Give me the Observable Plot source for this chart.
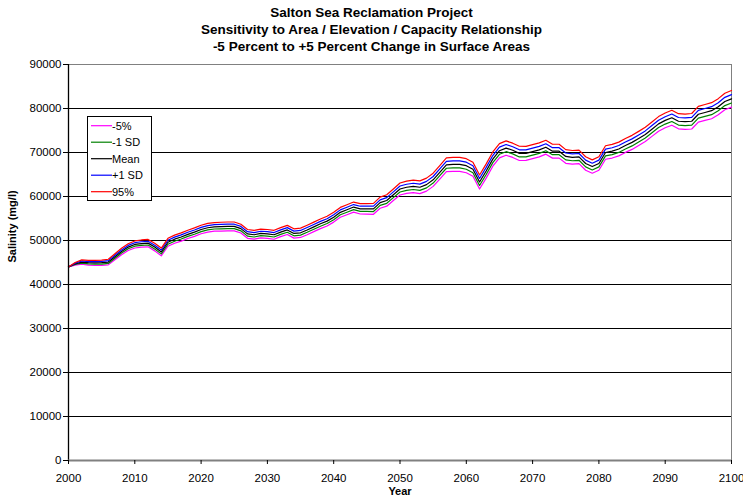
<!DOCTYPE html>
<html><head><meta charset="utf-8">
<script src="https://cdn.jsdelivr.net/npm/d3@7"></script>
<script src="https://cdn.jsdelivr.net/npm/@observablehq/plot@0.6"></script>
<style>
body{margin:0;background:#fff;font-family:"Liberation Sans",Arial,sans-serif;}
#title{width:743px;height:58px;box-sizing:border-box;padding-top:4px;text-align:center;font-weight:bold;font-size:13.5px;line-height:17px;color:#000;}
#chart svg{display:block;}
</style></head><body>
<div id="title">Salton Sea Reclamation Project<br>Sensitivity to Area / Elevation / Capacity Relationship<br>-5 Percent to +5 Percent Change in Surface Areas</div>
<div id="chart"></div>
<script>
const years = d3.range(2000, 2101);
const seriesNames = ["-5%", "-1 SD", "Mean", "+1 SD", "95%"];
const seriesColors = ["#FF00FF", "#008000", "#000000", "#0000FF", "#FF0000"];
const xTicks = [2000,2010,2020,2030,2040,2050,2060,2070,2080,2090,2100];
const yTicks = [0,10000,20000,30000,40000,50000,60000,70000,80000,90000];

const meanValues = [44000,44700,45100,44950,44900,44950,45100,46300,47500,48500,
49100,49300,49400,48500,47400,49600,50300,50800,51400,51900,
52500,52900,53100,53150,53200,53200,52700,51500,51300,51600,
51500,51300,51900,52400,51600,51750,52400,53100,53800,54400,
55300,56400,57000,57600,57200,57200,57200,58600,59100,60400,
61700,62100,62300,62100,62700,63800,65500,67200,67300,67300,
67000,66200,63300,65800,68500,70400,71000,70500,69800,69800,
70200,70600,71200,70300,70300,69100,68900,69000,67500,66800,
67500,70000,70300,70800,71600,72300,73200,74100,75300,76500,
77300,77900,77100,77000,77100,78700,79100,79500,80400,81600,
82200];
const minus1SD = [44000,44550,44850,44680,44610,44650,44780,45960,47140,48120,
48700,48890,48980,48070,46960,49150,49840,50330,50930,51420,
52020,52410,52610,52650,52700,52700,52200,51000,50800,51100,
51000,50790,51390,51880,51070,51220,51860,52560,53250,53850,
54740,55840,56430,57030,56610,56600,56580,57970,58450,59740,
61020,61410,61590,61380,61960,63050,64730,66420,66510,66510,
66200,65400,62500,64990,67690,69590,70185,69690,68990,69000,
69400,69800,70410,69510,69510,68320,68120,68230,66730,66040,
66740,69230,69520,70020,70810,71500,72400,73290,74480,75670,
76460,77050,76240,76130,76220,77810,78200,78590,79480,80660,
81250];
const minus5 = [44000,44400,44600,44410,44320,44350,44460,45620,46780,47740,
48300,48480,48560,47640,46520,48700,49380,49860,50460,50940,
51540,51920,52120,52150,52200,52200,51700,50500,50300,50600,
50500,50280,50880,51360,50540,50690,51320,52020,52700,53300,
54180,55280,55860,56460,56020,56000,55960,57340,57800,59080,
60340,60720,60880,60660,61220,62300,63960,65640,65720,65720,
65400,64600,61700,64180,66880,68780,69370,68880,68180,68200,
68600,69000,69620,68720,68720,67540,67340,67460,65960,65280,
65980,68460,68740,69240,70020,70700,71600,72480,73660,74840,
75620,76200,75380,75260,75340,76920,77300,77680,78560,79720,
80300];
const plus1SD = [44000,44850,45350,45220,45190,45250,45420,46640,47860,48880,
49500,49710,49820,48930,47840,50050,50760,51270,51870,52380,
52980,53390,53590,53650,53700,53700,53200,52000,51800,52100,
52000,51810,52410,52920,52130,52280,52940,53640,54350,54950,
55860,56960,57570,58170,57790,57800,57820,59230,59750,61060,
62380,62790,63010,62820,63440,64550,66270,67980,68090,68090,
67800,67000,64100,66610,69310,71210,71815,71310,70610,70600,
71000,71400,71990,71090,71090,69880,69680,69770,68270,67560,
68260,70770,71080,71580,72390,73100,74000,74910,76120,77330,
78140,78750,77960,77870,77980,79590,80000,80410,81320,82540,
83150];
const plus95 = [44000,45000,45600,45490,45480,45550,45740,46980,48220,49260,
49900,50120,50240,49360,48280,50500,51220,51740,52340,52860,
53460,53880,54080,54150,54200,54200,53700,52500,52300,52600,
52500,52320,52920,53440,52660,52810,53480,54180,54900,55500,
56420,57520,58140,58740,58380,58400,58440,59860,60400,61720,
63060,63480,63720,63540,64180,65300,67040,68760,68880,68880,
68600,67800,64900,67420,70120,72020,72630,72120,71420,71400,
71800,72200,72780,71880,71880,70660,70460,70540,69040,68320,
69020,71540,71860,72360,73180,73900,74800,75720,76940,78160,
78980,79600,78820,78740,78860,80480,80900,81320,82240,83480,
84100];

const seriesValues = [minus5, minus1SD, meanValues, plus1SD, plus95];
const rows = [];
seriesValues.forEach((vals, s) => years.forEach((yr, i) => rows.push({year: yr, value: vals[i], name: seriesNames[s]})));

const plot = Plot.plot({
  width: 743, height: 445,
  marginTop: 6, marginBottom: 43, marginLeft: 68, marginRight: 12,
  style: {fontFamily: "'Liberation Sans', Arial, sans-serif", fontSize: "11.5px", background: "white", color: "#000"},
  x: {domain: [2000, 2100], label: null},
  y: {domain: [0, 90000], label: null},
  color: {domain: seriesNames, range: seriesColors},
  marks: [
    Plot.ruleY(yTicks.filter(d => d > 0 && d < 90000), {stroke: "#000", strokeWidth: 1}),
    Plot.ruleY([90000], {stroke: "#808080", strokeWidth: 1}),
    Plot.ruleX([2100], {stroke: "#808080", strokeWidth: 1}),
    Plot.line(rows, {x: "year", y: "value", z: "name", stroke: "name", strokeWidth: 1.2}),
    Plot.ruleX([2000], {stroke: "#000", strokeWidth: 1.3}),
    Plot.ruleY([0], {stroke: "#808080", strokeWidth: 2}),
    Plot.axisX({ticks: xTicks, tickFormat: d => String(d), tickSize: 4, tickPadding: 9, label: null, stroke: "#000"}),
    Plot.axisY({ticks: yTicks, tickFormat: d => String(d), tickSize: 5, tickPadding: 2, label: null, stroke: "#000"}),
    Plot.text(["Year"], {frameAnchor: "bottom", dy: 34, text: d => d, fontWeight: "bold", fontSize: 11}),
    Plot.text(["Salinity (mg/l)"], {frameAnchor: "left", dx: -56, rotate: -90, text: d => d, fontWeight: "bold", fontSize: 11})
  ]
});
document.getElementById("chart").appendChild(plot);

// legend
const svg = d3.select(plot);
const lg = svg.append("g").attr("font-family", "'Liberation Sans', Arial, sans-serif").attr("font-size", 11).attr("text-anchor", "start");
lg.append("rect").attr("x", 87.5).attr("y", 58.5).attr("width", 64).attr("height", 84).attr("fill", "#fff").attr("stroke", "#000");
seriesNames.forEach((n, i) => {
  const y = 67.7 + i * 16.5;
  lg.append("line").attr("x1", 91).attr("x2", 112).attr("y1", y).attr("y2", y).attr("stroke", seriesColors[i]).attr("stroke-width", 1.2);
  lg.append("text").attr("x", 112).attr("y", y).attr("dy", "0.35em").attr("text-anchor", "start").attr("fill", "#000").text(n);
});
</script>
</body></html>
